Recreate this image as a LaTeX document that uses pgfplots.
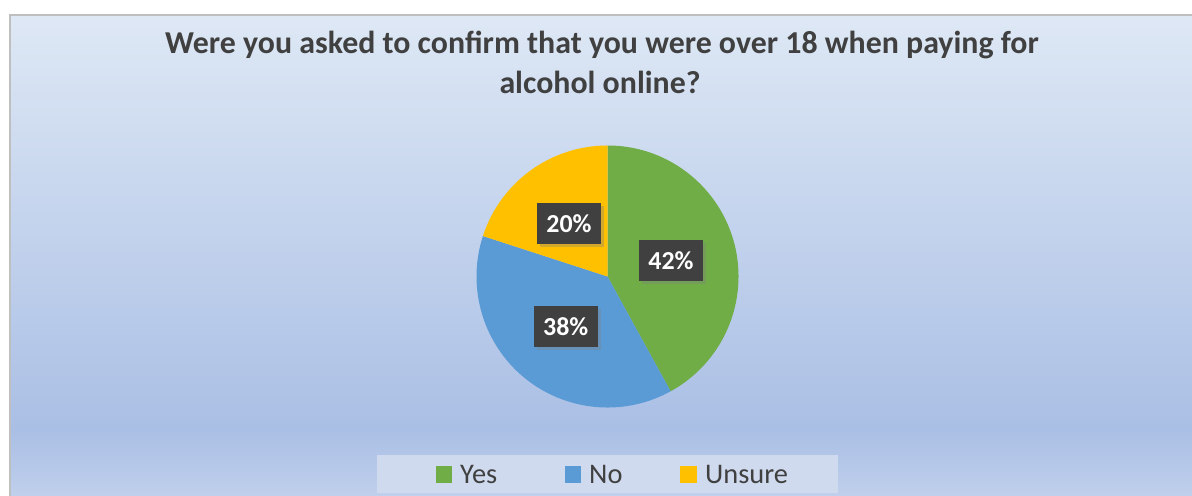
\documentclass[border=0pt]{standalone}
\usepackage{pgfplots}
\pgfplotsset{compat=1.18}
\usepackage{pgfplotstable}
\usepackage{fontspec}
\setmainfont{Carlito}
\usetikzlibrary{shadows}
\definecolor{yescol}{HTML}{70AD47}
\definecolor{nocol}{HTML}{5B9BD5}
\definecolor{unscol}{HTML}{FFC000}
\definecolor{bgtop}{HTML}{DEE8F5}
\definecolor{bgmid}{HTML}{AABFE5}
\definecolor{bgbot}{HTML}{C0D0EC}
\definecolor{legbg}{HTML}{CFDAEE}
\definecolor{titlecol}{HTML}{404040}
\definecolor{lblcol}{HTML}{404040}
\definecolor{bordercol}{HTML}{BFBFBF}
\tikzset{lbl/.style={fill=lblcol, text=white, minimum width=64bp, minimum height=41bp,
    inner sep=0, font=\bfseries\fontsize{26}{30}\selectfont,
    drop shadow={shadow xshift=3bp, shadow yshift=-3bp, opacity=0.35}}}

\pgfplotstableread{
label value
Yes 42
No 38
Unsure 20
}\piedata

\begin{document}
\begin{tikzpicture}
\pgfplotstablegetelem{0}{value}\of\piedata \edef\vYes{\pgfplotsretval}
\pgfplotstablegetelem{1}{value}\of\piedata \edef\vNo{\pgfplotsretval}
\pgfplotstablegetelem{2}{value}\of\piedata \edef\vUns{\pgfplotsretval}
\pgfmathsetmacro\tot{\vYes+\vNo+\vUns}
\pgfmathsetmacro\aA{90}
\pgfmathsetmacro\aB{\aA-360*\vYes/\tot}
\pgfmathsetmacro\aC{\aB-360*\vNo/\tot}
\pgfmathsetmacro\aD{\aC-360*\vUns/\tot}
\pgfmathsetmacro\mA{(\aA+\aB)/2}
\pgfmathsetmacro\mB{(\aB+\aC)/2}
\pgfmathsetmacro\mC{(\aC+\aD)/2}
\fill[white] (0,0) rectangle (1192bp,496bp);
% chart area background
\shade[top color=bgtop, bottom color=bgmid] (10bp,66bp) rectangle (1192bp,481bp);
\shade[top color=bgmid, bottom color=bgbot] (10bp,-1bp) rectangle (1192bp,66.2bp);
\draw[bordercol, line width=2bp] (10bp,-5bp) -- (10bp,481bp) -- (1200bp,481bp);
% title
\node[anchor=base, inner sep=0, font=\bfseries\fontsize{32}{37}\selectfont, text=titlecol] at (602bp,442bp) {Were you asked to confirm that you were over 18 when paying for};
\node[anchor=base, inner sep=0, font=\bfseries\fontsize{32}{37}\selectfont, text=titlecol] at (600bp,402bp) {alcohol online?};
\begin{axis}[at={(0,0)}, anchor=south west, scale only axis,
  width=1192bp, height=496bp, xmin=0, xmax=1192, ymin=0, ymax=496,
  hide axis, clip=false]
\fill[yescol] (607.5,219.5) -- ++(\aA:131bp) arc[start angle=\aA, end angle=\aB, radius=131bp] -- cycle;
\fill[nocol] (607.5,219.5) -- ++(\aB:131bp) arc[start angle=\aB, end angle=\aC, radius=131bp] -- cycle;
\fill[unscol] (607.5,219.5) -- ++(\aC:131bp) arc[start angle=\aC, end angle=\aD, radius=131bp] -- cycle;
\path (607.5,219.5) ++(\mA:65.5bp) node[lbl] {\vYes\%};
\path (607.5,219.5) ++(\mB:65.5bp) node[lbl] {\vNo\%};
\path (607.5,219.5) ++(\mC:65.5bp) node[lbl] {\vUns\%};
\end{axis}
% legend
\fill[legbg] (377bp,3bp) rectangle (838bp,41bp);
\fill[yescol] (436bp,13bp) rectangle (452bp,30bp);
\fill[nocol] (565bp,13bp) rectangle (581bp,30bp);
\fill[unscol] (680bp,13bp) rectangle (697bp,30bp);
\node[anchor=base west, inner sep=0, text=titlecol, font=\fontsize{28.5}{33}\selectfont] at (460bp,13bp) {Yes};
\node[anchor=base west, inner sep=0, text=titlecol, font=\fontsize{28.5}{33}\selectfont] at (589bp,13bp) {No};
\node[anchor=base west, inner sep=0, text=titlecol, font=\fontsize{28.5}{33}\selectfont] at (705bp,13bp) {Unsure};
\pgfresetboundingbox
\path[use as bounding box] (0,0) rectangle (1192bp,496bp);
\end{tikzpicture}
\end{document}
